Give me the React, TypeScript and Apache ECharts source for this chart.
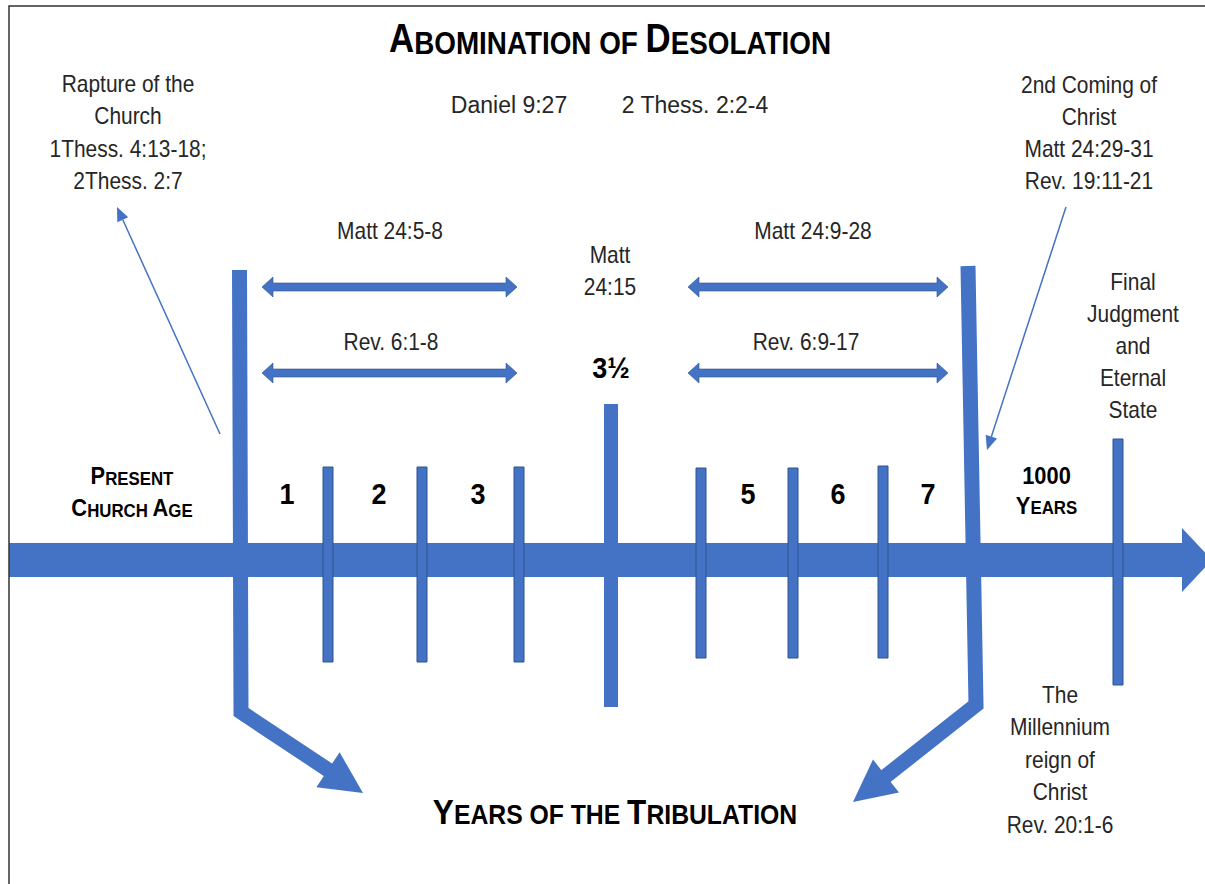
import React, { useEffect, useRef } from "react";
import * as echarts from "echarts";

// ---------- text content ----------
const title = "Abomination of Desolation";
const bottomHeading = "Years of the Tribulation";
const presentAge = ["Present", "Church Age"];
const millenniumHead = ["1000", "Years"];
const raptureNote = ["Rapture of the", "Church", "1Thess. 4:13-18;", "2Thess. 2:7"];
const secondComingNote = ["2nd Coming of", "Christ", "Matt 24:29-31", "Rev. 19:11-21"];
const finalNote = ["Final", "Judgment", "and", "Eternal", "State"];
const millenniumNote = ["The", "Millennium", "reign of", "Christ", "Rev. 20:1-6"];
const topRefs = ["Daniel 9:27", "2 Thess. 2:2-4"];
const spanRefs = ["Matt 24:5-8", "Matt 24:9-28", "Rev. 6:1-8", "Rev. 6:9-17"];
const midRef = ["Matt", "24:15"];
const midLabel = "3½";
const yearLabels = ["1", "2", "3", "5", "6", "7"];

// ---------- timeline values (diagram units on hidden axes) ----------
const yearLabelX = [287, 379, 478, 748, 838, 928];
const yearDividerX = [328, 422, 519, 701, 793, 883];
const yearDividerTop = [467, 467, 467, 468, 468, 466];
const yearDividerBottom = [662, 662, 662, 658, 658, 658];
const midpointBar = [611, 404, 707];
const finalJudgmentBar = [1118, 439, 685];
const timelineAxis = [9, 1182, 1212, 560];
const bentArrows = [
  [239.5, 270, 241, 712, 363, 793],
  [968, 266, 976, 705, 853, 802],
];
const pointerArrows = [
  [220, 434, 117, 207],
  [1066, 207, 987, 450],
];
const spanArrows = [
  [262, 517, 287],
  [688, 948, 287],
  [262, 517, 373],
  [688, 948, 373],
];

const BLUE = "#4472C4";
const BLUE_EDGE = "#2F528F";
const FONT = "'Liberation Sans', Arial, Helvetica, sans-serif";

type Label = { text: string; x: number; y: number; kind: string };
const labels: Label[] = [];
function block(lines: string[], x: number, y0: number, dy: number, kind: string) {
  lines.forEach((t, i) => labels.push({ text: t, x, y: y0 + i * dy, kind }));
}
block([title], 610, 38.5, 0, "title");
block([bottomHeading], 615, 811.5, 0, "heading");
block(presentAge, 132, 476, 32, "caps");
block(millenniumHead, 1046.5, 476, 29.5, "caps");
block(raptureNote, 128, 84, 32.4, "note");
block(secondComingNote, 1089, 85, 32, "note");
block(finalNote, 1133, 282, 32, "note");
block(millenniumNote, 1060, 695, 32.5, "note");
labels.push({ text: topRefs[0], x: 509, y: 105, kind: "ref" });
labels.push({ text: topRefs[1], x: 695, y: 105, kind: "ref" });
const spanRefPos = [
  [390, 231],
  [813, 231],
  [391, 342],
  [806, 342],
];
spanRefs.forEach((t, i) => labels.push({ text: t, x: spanRefPos[i][0], y: spanRefPos[i][1], kind: "note" }));
block(midRef, 610, 255, 32, "note");
labels.push({ text: midLabel, x: 611, y: 367.5, kind: "num" });
yearLabels.forEach((t, i) => labels.push({ text: t, x: yearLabelX[i], y: 493.5, kind: "num" }));

function smallCaps(s: string): string {
  let out = "";
  let cur = "";
  let curBig: boolean | null = null;
  for (const ch of s) {
    const big = (ch >= "A" && ch <= "Z") || (ch >= "0" && ch <= "9");
    if (curBig === null || big === curBig) {
      cur += big ? ch : ch.toUpperCase();
      curBig = big;
    } else {
      out += `{${curBig ? "b" : "s"}|${cur}}`;
      cur = big ? ch : ch.toUpperCase();
      curBig = big;
    }
  }
  if (cur) out += `{${curBig ? "b" : "s"}|${cur}}`;
  return out;
}

const capsSizes: Record<string, [number, number, number]> = {
  title: [40, 32, 0.87],
  heading: [35, 27.5, 0.9],
  caps: [24, 18.5, 0.91],
};

function labelElement(l: Label, p: number[]) {
  if (capsSizes[l.kind]) {
    const [bigSize, smallSize, sx] = capsSizes[l.kind];
    return {
      type: "text",
      x: p[0],
      y: p[1],
      scaleX: sx,
      style: {
        text: smallCaps(l.text),
        align: "center",
        verticalAlign: "middle",
        fill: "#000",
        rich: {
          b: { fontSize: bigSize, fontWeight: "bold", fontFamily: FONT, fill: "#000", verticalAlign: "bottom" },
          s: { fontSize: smallSize, fontWeight: "bold", fontFamily: FONT, fill: "#000", verticalAlign: "bottom" },
        },
      },
    };
  }
  const isNum = l.kind === "num";
  return {
    type: "text",
    x: p[0],
    y: p[1],
    scaleX: isNum ? 0.9 : l.kind === "ref" ? 1.0 : 0.91,
    style: {
      text: l.text,
      align: "center",
      verticalAlign: "middle",
      fontFamily: FONT,
      fontSize: isNum ? 30 : 23,
      fontWeight: isNum ? "bold" : "normal",
      fill: isNum ? "#000" : "#262626",
    },
  };
}

function barSeries(name: string, data: number[][], width: number, edge: boolean, z: number) {
  return {
    type: "custom",
    name,
    z,
    coordinateSystem: "cartesian2d",
    data,
    renderItem: (_p: any, api: any) => {
      const a = api.coord([api.value(0), api.value(1)]);
      const b = api.coord([api.value(0), api.value(2)]);
      return {
        type: "rect",
        shape: { x: a[0] - width / 2, y: a[1], width, height: b[1] - a[1] },
        style: { fill: BLUE, stroke: edge ? BLUE_EDGE : null, lineWidth: edge ? 1 : 0 },
      };
    },
  };
}

export default function App() {
  const ref = useRef<HTMLDivElement>(null);
  useEffect(() => {
    if (!ref.current) return;
    const chart = echarts.init(ref.current, undefined, { renderer: "svg" });
    const option: any = {
      animation: false,
      backgroundColor: "#fff",
      grid: { left: 0, right: 0, top: 0, bottom: 0 },
      xAxis: { type: "value", min: 0, max: 1205, show: false },
      yAxis: { type: "value", min: 0, max: 884, inverse: true, show: false },
      graphic: [
        {
          type: "polyline",
          shape: { points: [[9, 884], [9, 6], [1205, 6]] },
          style: { stroke: "#333", lineWidth: 1.5, fill: null },
          z: 100,
        },
      ],
      series: [
        {
          type: "custom",
          name: "timeline",
          z: 2,
          coordinateSystem: "cartesian2d",
          data: [timelineAxis],
          renderItem: (_p: any, api: any) => {
            const y = api.value(3);
            const s = api.coord([api.value(0), y]);
            const hb = api.coord([api.value(1), y]);
            const t = api.coord([api.value(2), y]);
            const cy = s[1];
            return {
              type: "polygon",
              shape: {
                points: [
                  [s[0], cy - 17],
                  [hb[0], cy - 17],
                  [hb[0], cy - 32],
                  [t[0], cy],
                  [hb[0], cy + 32],
                  [hb[0], cy + 17],
                  [s[0], cy + 17],
                ],
              },
              style: { fill: BLUE },
            };
          },
        },
        barSeries(
          "years",
          yearDividerX.map((x, i) => [x, yearDividerTop[i], yearDividerBottom[i]]),
          10,
          true,
          4
        ),
        barSeries("midpoint", [midpointBar], 14, false, 4),
        barSeries("final", [finalJudgmentBar], 10, true, 4),
        {
          type: "custom",
          name: "bent",
          z: 3,
          coordinateSystem: "cartesian2d",
          data: bentArrows,
          renderItem: (_p: any, api: any) => {
            const A = api.coord([api.value(0), api.value(1)]);
            const B = api.coord([api.value(2), api.value(3)]);
            const T = api.coord([api.value(4), api.value(5)]);
            const dx = T[0] - B[0];
            const dy = T[1] - B[1];
            const len = Math.hypot(dx, dy);
            const ux = dx / len;
            const uy = dy / len;
            const head = 42;
            const hw = 21;
            const base = [T[0] - ux * head, T[1] - uy * head];
            const px = -uy;
            const py = ux;
            return {
              type: "group",
              children: [
                {
                  type: "polyline",
                  shape: { points: [A, B, [base[0] + ux * 3, base[1] + uy * 3]] },
                  style: { stroke: BLUE, lineWidth: 15, fill: null, lineJoin: "miter" },
                },
                {
                  type: "polygon",
                  shape: {
                    points: [T, [base[0] + px * hw, base[1] + py * hw], [base[0] - px * hw, base[1] - py * hw]],
                  },
                  style: { fill: BLUE },
                },
              ],
            };
          },
        },
        {
          type: "custom",
          name: "pointers",
          z: 3,
          coordinateSystem: "cartesian2d",
          data: pointerArrows,
          renderItem: (_p: any, api: any) => {
            const S = api.coord([api.value(0), api.value(1)]);
            const T = api.coord([api.value(2), api.value(3)]);
            const dx = T[0] - S[0];
            const dy = T[1] - S[1];
            const len = Math.hypot(dx, dy);
            const ux = dx / len;
            const uy = dy / len;
            const head = 14;
            const hw = 6;
            const base = [T[0] - ux * head, T[1] - uy * head];
            return {
              type: "group",
              children: [
                {
                  type: "line",
                  shape: { x1: S[0], y1: S[1], x2: base[0], y2: base[1] },
                  style: { stroke: BLUE, lineWidth: 1.5 },
                },
                {
                  type: "polygon",
                  shape: {
                    points: [T, [base[0] - uy * hw, base[1] + ux * hw], [base[0] + uy * hw, base[1] - ux * hw]],
                  },
                  style: { fill: BLUE },
                },
              ],
            };
          },
        },
        {
          type: "custom",
          name: "spans",
          z: 3,
          coordinateSystem: "cartesian2d",
          data: spanArrows,
          renderItem: (_p: any, api: any) => {
            const a = api.coord([api.value(0), api.value(2)]);
            const b = api.coord([api.value(1), api.value(2)]);
            const y = a[1];
            const x0 = a[0];
            const x1 = b[0];
            const hl = 11;
            const hh = 10;
            const sh = 4;
            return {
              type: "polygon",
              shape: {
                points: [
                  [x0, y],
                  [x0 + hl, y - hh],
                  [x0 + hl, y - sh],
                  [x1 - hl, y - sh],
                  [x1 - hl, y - hh],
                  [x1, y],
                  [x1 - hl, y + hh],
                  [x1 - hl, y + sh],
                  [x0 + hl, y + sh],
                  [x0 + hl, y + hh],
                ],
              },
              style: { fill: BLUE, stroke: BLUE_EDGE, lineWidth: 0.6 },
            };
          },
        },
        {
          type: "custom",
          name: "labels",
          z: 10,
          coordinateSystem: "cartesian2d",
          data: labels.map((l, i) => [l.x, l.y, i]),
          renderItem: (_p: any, api: any) => {
            const l = labels[api.value(2)];
            const p = api.coord([api.value(0), api.value(1)]);
            return labelElement(l, p);
          },
        },
      ],
    };
    chart.setOption(option);
    return () => chart.dispose();
  }, []);
  return (
    <div
      ref={ref}
      style={{ position: "fixed", left: 0, top: 0, width: 1205, height: 884, background: "#fff" }}
    />
  );
}
